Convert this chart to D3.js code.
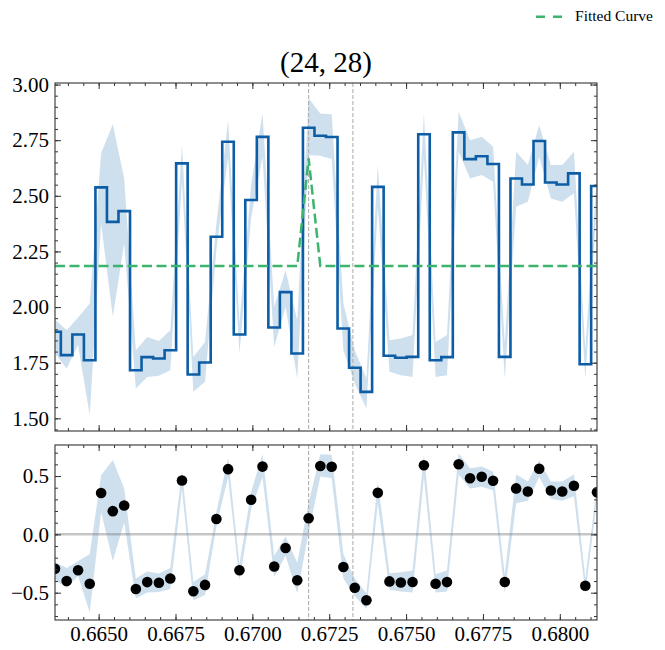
<!DOCTYPE html>
<html><head><meta charset="utf-8">
<script src="https://cdn.jsdelivr.net/npm/d3@7"></script>
<style>body{margin:0;background:#fff}</style>
</head><body><svg id="c" width="665" height="650"></svg>
<script>
const xs = [0.66358,0.66396,0.66433,0.66471,0.66508,0.66546,0.66583,0.66621,0.66658,0.66696,0.66733,0.66771,0.66808,0.66846,0.66883,0.66921,0.66958,0.66996,0.67033,0.67071,0.67108,0.67146,0.67183,0.67221,0.67258,0.67296,0.67333,0.67371,0.67408,0.67446,0.67483,0.67521,0.67558,0.67596,0.67633,0.67671,0.67708,0.67746,0.67783,0.67821,0.67858,0.67896,0.67933,0.67971,0.68008,0.68046,0.68083,0.68121];
const values = [1.889,1.784,1.877,1.761,2.538,2.383,2.431,1.716,1.775,1.769,1.806,2.646,1.697,1.751,2.316,2.743,1.877,2.481,2.765,1.908,2.067,1.791,2.806,2.770,2.764,1.904,1.727,1.619,2.540,1.781,1.772,1.776,2.777,1.761,1.775,2.785,2.665,2.678,2.643,1.776,2.578,2.551,2.746,2.560,2.551,2.601,1.743,2.544];
const lower = [1.791,1.724,1.829,1.514,2.376,1.956,2.286,1.634,1.686,1.691,1.716,2.570,1.619,1.664,2.256,2.675,1.791,2.400,2.675,1.821,2.001,1.679,2.683,2.680,2.665,1.806,1.656,1.544,2.451,1.709,1.694,1.686,2.675,1.686,1.694,2.698,2.578,2.593,2.563,1.679,2.451,2.473,2.675,2.488,2.473,2.511,1.679,2.480];
const upper = [1.944,1.896,1.953,2.016,2.691,2.822,2.578,1.806,1.866,1.848,1.896,2.728,1.776,1.843,2.376,2.840,1.926,2.550,2.870,2.001,2.166,1.941,2.938,2.870,2.866,2.016,1.806,1.680,2.638,1.851,1.859,1.874,2.870,1.843,1.874,2.878,2.750,2.765,2.720,1.836,2.698,2.638,2.818,2.638,2.638,2.698,1.806,2.600];
const fitted = [2.184,2.184,2.184,2.184,2.184,2.184,2.184,2.184,2.184,2.184,2.184,2.184,2.184,2.184,2.184,2.184,2.184,2.184,2.184,2.184,2.184,2.184,2.668,2.184,2.184,2.184,2.184,2.184,2.184,2.184,2.184,2.184,2.184,2.184,2.184,2.184,2.184,2.184,2.184,2.184,2.184,2.184,2.184,2.184,2.184,2.184,2.184,2.184];
const residuals = [-0.295,-0.400,-0.307,-0.423,0.354,0.199,0.247,-0.468,-0.409,-0.415,-0.378,0.462,-0.487,-0.433,0.132,0.559,-0.307,0.297,0.581,-0.276,-0.117,-0.393,0.138,0.586,0.580,-0.280,-0.457,-0.565,0.356,-0.403,-0.412,-0.408,0.593,-0.423,-0.409,0.601,0.481,0.494,0.459,-0.408,0.394,0.367,0.562,0.376,0.367,0.417,-0.441,0.360];
const resLower = [-0.393,-0.460,-0.355,-0.670,0.192,-0.228,0.102,-0.550,-0.498,-0.493,-0.468,0.386,-0.565,-0.520,0.072,0.491,-0.393,0.216,0.491,-0.363,-0.183,-0.505,0.015,0.496,0.481,-0.378,-0.528,-0.640,0.267,-0.475,-0.490,-0.498,0.491,-0.498,-0.490,0.514,0.394,0.409,0.379,-0.505,0.267,0.289,0.491,0.304,0.289,0.327,-0.505,0.296];
const resUpper = [-0.240,-0.288,-0.231,-0.168,0.507,0.638,0.394,-0.378,-0.318,-0.336,-0.288,0.544,-0.408,-0.341,0.192,0.656,-0.258,0.366,0.686,-0.183,-0.018,-0.243,0.270,0.686,0.682,-0.168,-0.378,-0.504,0.454,-0.333,-0.325,-0.310,0.686,-0.341,-0.310,0.694,0.566,0.581,0.536,-0.348,0.514,0.454,0.634,0.454,0.454,0.514,-0.378,0.416];
const vLines = [0.67183, 0.67327];
const xTicks = [0.6650,0.6675,0.6700,0.6725,0.6750,0.6775,0.6800];
const yTicksTop = [1.50,1.75,2.00,2.25,2.50,2.75,3.00];
const yTicksBot = [-0.5,0.0,0.5];
const titleText = "(24, 28)";
const legendLabel = "Fitted Curve";

const svg = d3.select("#c");
const FONT = "'Liberation Serif', 'DejaVu Serif', serif";
const L = 55, R = 597;
const top1 = 83, bot1 = 431, top2 = 445, bot2 = 620;
const x = d3.scaleLinear().domain([0.66358, 0.68121]).range([L, R]);
const y1 = d3.scaleLinear().domain([1.443, 3.007]).range([bot1, top1]);
const y2 = d3.scaleLinear().domain([-0.734, 0.766]).range([bot2, top2]);
const blue = "#0C5DA5", band = "#0C5DA5", green = "#3cb46e";
const data = xs.map((v,i)=>({x:v, v:values[i], lo:lower[i], hi:upper[i], f:fitted[i], r:residuals[i], rlo:resLower[i], rhi:resUpper[i]}));

const defs = svg.append("defs");
defs.append("clipPath").attr("id","cp1").append("rect").attr("x",L).attr("y",top1).attr("width",R-L).attr("height",bot1-top1);
defs.append("clipPath").attr("id","cp2").append("rect").attr("x",L).attr("y",top2).attr("width",R-L).attr("height",bot2-top2);

// Top panel
const g1 = svg.append("g").attr("clip-path","url(#cp1)");
g1.append("path").datum(data).attr("fill",band).attr("fill-opacity",0.2)
  .attr("d", d3.area().x(d=>x(d.x)).y0(d=>y1(d.lo)).y1(d=>y1(d.hi)));
vLines.forEach(v=>g1.append("line").attr("x1",x(v)).attr("x2",x(v)).attr("y1",top1).attr("y2",bot1)
  .attr("stroke","#a8a8a8").attr("stroke-width",1).attr("stroke-dasharray","4,2"));
g1.append("path").datum(data).attr("fill","none").attr("stroke",blue).attr("stroke-width",2.6)
  .attr("stroke-linejoin","miter")
  .attr("d", d3.line().curve(d3.curveStep).x(d=>x(d.x)).y(d=>y1(d.v)));
g1.append("path").datum(data).attr("fill","none").attr("stroke",green).attr("stroke-width",2.5)
  .attr("stroke-dasharray","10,4.5")
  .attr("d", d3.line().x(d=>x(d.x)).y(d=>y1(d.f)));

// Bottom panel
const g2 = svg.append("g").attr("clip-path","url(#cp2)");
g2.append("path").datum(data).attr("fill",band).attr("fill-opacity",0.2)
  .attr("d", d3.area().x(d=>x(d.x)).y0(d=>y2(d.rlo)).y1(d=>y2(d.rhi)));
g2.append("line").attr("x1",L).attr("x2",R).attr("y1",y2(0)).attr("y2",y2(0))
  .attr("stroke","#808080").attr("stroke-opacity",0.45).attr("stroke-width",2.5);
vLines.forEach(v=>g2.append("line").attr("x1",x(v)).attr("x2",x(v)).attr("y1",top2).attr("y2",bot2)
  .attr("stroke","#a8a8a8").attr("stroke-width",1).attr("stroke-dasharray","4,2"));
g2.selectAll("circle").data(data).join("circle")
  .attr("cx",d=>x(d.x)).attr("cy",d=>y2(d.r)).attr("r",5.3).attr("fill","#000");

// Axes
function frame(top, bot, yScale, yTicks, yMinorStep, yFmt, showX) {
  const g = svg.append("g");
  const minorX = d3.range(0.6640, 0.6815, 0.0005).filter(v=>v>=x.domain()[0]-1e-9 && v<=x.domain()[1]+1e-9);
  const yd = yScale.domain();
  const minorY = d3.range(Math.ceil(yd[0]/yMinorStep)*yMinorStep, yd[1]+1e-9, yMinorStep);
  const mk = (axisFn, scale, ticks, size, pos, fmt) => {
    const a = axisFn(scale).tickValues(ticks).tickSizeInner(-size).tickSizeOuter(0).tickPadding(6);
    a.tickFormat(fmt ? fmt : () => "");
    const gg = g.append("g").attr("transform", pos).call(a);
    gg.select(".domain").remove();
    gg.selectAll(".tick line").attr("stroke","#333").attr("stroke-width",1);
    gg.selectAll("text").attr("font-family",FONT).attr("font-size",21).attr("fill","#000");
    return gg;
  };
  mk(d3.axisBottom, x, xTicks, 6, `translate(0,${bot})`, showX ? d3.format(".4f") : null);
  mk(d3.axisBottom, x, minorX, 3, `translate(0,${bot})`, null);
  mk(d3.axisTop, x, xTicks, 6, `translate(0,${top})`, null);
  mk(d3.axisTop, x, minorX, 3, `translate(0,${top})`, null);
  mk(d3.axisLeft, yScale, yTicks, 6, `translate(${L},0)`, yFmt);
  mk(d3.axisLeft, yScale, minorY, 3, `translate(${L},0)`, null);
  mk(d3.axisRight, yScale, yTicks, 6, `translate(${R},0)`, null);
  mk(d3.axisRight, yScale, minorY, 3, `translate(${R},0)`, null);
  g.append("rect").attr("x",L).attr("y",top).attr("width",R-L).attr("height",bot-top)
    .attr("fill","none").attr("stroke","#333").attr("stroke-width",1.1);
}
frame(top1, bot1, y1, yTicksTop, 0.05, d3.format(".2f"), false);
frame(top2, bot2, y2, yTicksBot, 0.1, d3.format(".1f"), true);

// Title
svg.append("text").attr("x",(L+R)/2).attr("y",72).attr("text-anchor","middle")
  .attr("font-family",FONT).attr("font-size",29).attr("fill","#000").text(titleText);

// Legend
svg.append("line").attr("x1",536).attr("x2",562).attr("y1",16.7).attr("y2",16.7)
  .attr("stroke",green).attr("stroke-width",2.5).attr("stroke-dasharray","9,8");
svg.append("text").attr("x",575).attr("y",21).attr("font-family",FONT).attr("font-size",14)
  .attr("textLength",78).attr("lengthAdjust","spacingAndGlyphs").attr("fill","#000").text(legendLabel);
</script>
</body></html>
